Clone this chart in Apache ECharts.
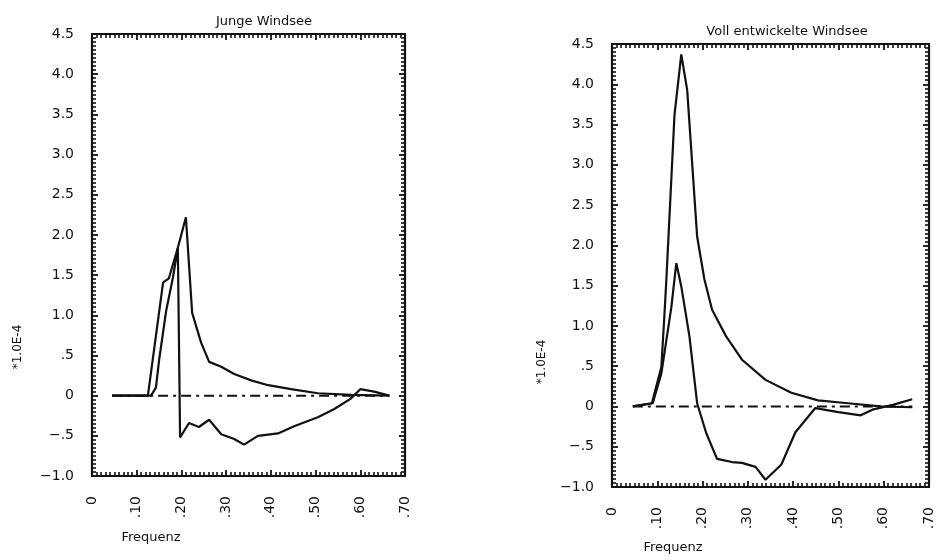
<!DOCTYPE html>
<html>
<head>
<meta charset="utf-8">
<script src="https://cdn.jsdelivr.net/npm/echarts@6/dist/echarts.min.js"></script>
<style>html,body{margin:0;padding:0;background:#fff}#c{width:936px;height:560px}</style>
</head>
<body>
<div id="c"></div>
<script>
// ---- data ----
const titles = ['Junge Windsee', 'Voll entwickelte Windsee'];
const xName = 'Frequenz';
const yName = '*1.0E-4';
const yTickValues = [-1.0, -0.5, 0, 0.5, 1.0, 1.5, 2.0, 2.5, 3.0, 3.5, 4.0, 4.5];
const yTickLabels = ['\u22121.0', '\u2212.5', '0', '.5', '1.0', '1.5', '2.0', '2.5', '3.0', '3.5', '4.0', '4.5'];
const xTickValues = [0, 0.1, 0.2, 0.3, 0.4, 0.5, 0.6, 0.7];
const xTickLabels = ['0', '.10', '.20', '.30', '.40', '.50', '.60', '.70'];

// left panel: Junge Windsee
const leftAx = [0.045, 0.125, 0.159, 0.172, 0.192, 0.210, 0.224, 0.244, 0.262, 0.289, 0.318, 0.356, 0.394, 0.445, 0.505, 0.580, 0.665];
const leftAy = [0, 0, 1.41, 1.46, 1.84, 2.22, 1.03, 0.66, 0.42, 0.36, 0.27, 0.19, 0.13, 0.08, 0.03, 0.01, 0];
const leftBx = [0.045, 0.132, 0.143, 0.150, 0.166, 0.181, 0.192, 0.197, 0.217, 0.239, 0.262, 0.289, 0.318, 0.340, 0.371, 0.416, 0.452, 0.505, 0.541, 0.578, 0.600, 0.631, 0.665];
const leftBy = [0, 0, 0.10, 0.44, 1.06, 1.47, 1.84, -0.52, -0.34, -0.39, -0.30, -0.48, -0.54, -0.61, -0.50, -0.47, -0.38, -0.27, -0.17, -0.04, 0.08, 0.05, 0];
const leftZeroX = [0.045, 0.665];
const leftZeroY = [0, 0];

// right panel: Voll entwickelte Windsee
const rightAx = [0.046, 0.088, 0.109, 0.116, 0.120, 0.138, 0.153, 0.166, 0.188, 0.204, 0.221, 0.252, 0.287, 0.339, 0.396, 0.455, 0.521, 0.593, 0.663];
const rightAy = [0, 0.04, 0.49, 1.16, 1.57, 3.62, 4.37, 3.93, 2.11, 1.58, 1.20, 0.87, 0.58, 0.33, 0.17, 0.075, 0.04, 0.0, -0.01];
const rightBx = [0.046, 0.090, 0.109, 0.131, 0.142, 0.153, 0.171, 0.188, 0.208, 0.232, 0.265, 0.287, 0.317, 0.339, 0.374, 0.405, 0.449, 0.500, 0.549, 0.575, 0.620, 0.663];
const rightBy = [0, 0.04, 0.41, 1.23, 1.78, 1.49, 0.87, 0.04, -0.33, -0.65, -0.69, -0.70, -0.75, -0.91, -0.72, -0.32, -0.02, -0.07, -0.11, -0.04, 0.02, 0.09];
const rightZeroX = [0.046, 0.663];
const rightZeroY = [0, 0];

// ---- chart ----
const FONT = 'DejaVu Sans';
const INK = '#111';
const zip = (xs, ys) => xs.map((x, i) => [x, ys[i]]);
const yFmt = v => { const i = yTickValues.findIndex(t => Math.abs(t - v) < 1e-6); return i >= 0 ? yTickLabels[i] : ''; };
const xFmt = v => { const i = xTickValues.findIndex(t => Math.abs(t - v) < 1e-6); return i >= 0 ? xTickLabels[i] : ''; };

const grids = [
  { left: 92, top: 34, width: 313, height: 442 },
  { left: 612, top: 44, width: 321, height: 443 }
];

function xAxes(gi) {
  const base = {
    type: 'value', gridIndex: gi, min: 0, max: 0.7, interval: 0.1,
    axisLine: { show: true, onZero: false, lineStyle: { color: INK, width: 2.2 } },
    axisTick: { show: true, inside: true, length: 6, lineStyle: { color: INK, width: 1.8 } },
    minorTick: { show: true, splitNumber: 10, length: 4, lineStyle: { color: INK, width: 1.6 } },
    splitLine: { show: false }
  };
  return [
    Object.assign({}, base, { position: 'bottom', axisLabel: { show: true, rotate: 90, margin: 20, formatter: xFmt, fontFamily: FONT, fontSize: 14, color: INK } }),
    Object.assign({}, base, { position: 'top', axisLabel: { show: false } })
  ];
}
function yAxes(gi) {
  const base = {
    type: 'value', gridIndex: gi, min: -1.0, max: 4.5, interval: 0.5,
    axisLine: { show: true, onZero: false, lineStyle: { color: INK, width: 2.2 } },
    axisTick: { show: true, inside: true, length: 6, lineStyle: { color: INK, width: 1.8 } },
    minorTick: { show: true, splitNumber: 10, length: 4, lineStyle: { color: INK, width: 1.6 } },
    splitLine: { show: false }
  };
  return [
    Object.assign({}, base, { position: 'left', axisLabel: { show: true, margin: 18, formatter: yFmt, fontFamily: FONT, fontSize: 14, color: INK } }),
    Object.assign({}, base, { position: 'right', axisLabel: { show: false } })
  ];
}

function line(data, xi, yi, dashed) {
  return {
    type: 'line', xAxisIndex: xi, yAxisIndex: yi, data: data,
    symbol: 'none', silent: true, animation: false,
    lineStyle: dashed ? { color: INK, width: 2, type: [10, 5, 3, 5] } : { color: INK, width: 2.2 }
  };
}

const chart = echarts.init(document.getElementById('c'), null, { renderer: 'canvas' });
chart.setOption({
  backgroundColor: '#ffffff',
  animation: false,
  title: [
    { text: titles[0], left: 259, top: 10, textAlign: 'center', textStyle: { fontFamily: FONT, fontSize: 13, fontWeight: 'normal', color: INK } },
    { text: titles[1], left: 782, top: 20, textAlign: 'center', textStyle: { fontFamily: FONT, fontSize: 13, fontWeight: 'normal', color: INK } }
  ],
  grid: grids,
  xAxis: [].concat(xAxes(0), xAxes(1)),
  yAxis: [].concat(yAxes(0), yAxes(1)),
  series: [
    line(zip(leftZeroX, leftZeroY), 0, 0, true),
    line(zip(leftAx, leftAy), 0, 0, false),
    line(zip(leftBx, leftBy), 0, 0, false),
    line(zip(rightZeroX, rightZeroY), 2, 2, true),
    line(zip(rightAx, rightAy), 2, 2, false),
    line(zip(rightBx, rightBy), 2, 2, false)
  ],
  graphic: [
    { type: 'text', x: 18, y: 347, rotation: Math.PI / 2, style: { text: yName, fontFamily: FONT, fontSize: 12, fill: INK, textAlign: 'center', textVerticalAlign: 'middle' } },
    { type: 'text', x: 542, y: 362, rotation: Math.PI / 2, style: { text: yName, fontFamily: FONT, fontSize: 12, fill: INK, textAlign: 'center', textVerticalAlign: 'middle' } },
    { type: 'text', x: 151, y: 538, style: { text: xName, fontFamily: FONT, fontSize: 13, fill: INK, textAlign: 'center', textVerticalAlign: 'middle' } },
    { type: 'text', x: 673, y: 548, style: { text: xName, fontFamily: FONT, fontSize: 13, fill: INK, textAlign: 'center', textVerticalAlign: 'middle' } }
  ]
});
</script>
</body>
</html>
